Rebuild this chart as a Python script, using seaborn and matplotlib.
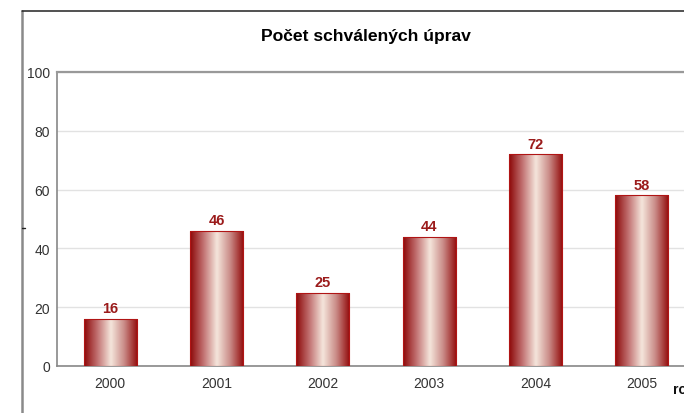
import matplotlib
matplotlib.use("Agg")
import matplotlib.pyplot as plt
import matplotlib.lines as mlines
from matplotlib.colors import LinearSegmentedColormap
from matplotlib.ticker import MultipleLocator, FixedLocator
import numpy as np
import pandas as pd
import seaborn as sns

roky = ['2000', '2001', '2002', '2003', '2004', '2005']
pocty = [16, 46, 25, 44, 72, 58]
titulek = 'Počet schválených úprav'

df = pd.DataFrame({'rok': roky, 'pocet': pocty})

sns.set_style('white')
plt.rcParams['font.family'] = ['Liberation Sans', 'DejaVu Sans']

W, H = 684, 414
fig = plt.figure(figsize=(W / 100, H / 100), dpi=100)
ax = fig.add_axes([57 / W, (H - 367) / H, (695 - 57) / W, (367 - 73) / H])

sns.barplot(data=df, x='rok', y='pocet', width=0.5, color='#a01010',
            ax=ax, zorder=3)

grad = LinearSegmentedColormap.from_list(
    'bar', ['#8c0808', '#c27272', '#f5e6dc', '#c98a86', '#920a0a'])
g = np.linspace(0, 1, 256).reshape(1, -1)
for p in ax.patches:
    x0, y0 = p.get_x(), p.get_y()
    w, h = p.get_width(), p.get_height()
    im = ax.imshow(g, cmap=grad, aspect='auto', extent=[x0, x0 + w, y0, y0 + h],
                   zorder=3, interpolation='bicubic')
    im.set_clip_path(p)
    p.set_facecolor('none')
    p.set_edgecolor('#b01515')
    p.set_linewidth(0.8)
    p.set_zorder(4)
    ax.text(x0 + w / 2, y0 + h + 1.2, f'{int(h)}', ha='center', va='bottom',
            fontsize=10.5, fontweight='bold', color='#9b1b1b', zorder=5)

ax.set_xlim(-0.5, 5.5)
ax.set_ylim(0, 100)
ax.yaxis.set_major_locator(MultipleLocator(20))
ax.yaxis.set_minor_locator(MultipleLocator(10))
ax.xaxis.set_minor_locator(FixedLocator([0.5, 1.5, 2.5, 3.5, 4.5]))
ax.grid(axis='y', color='#e2e2e2', linewidth=1, zorder=0)
ax.set_axisbelow(True)
ax.set_xlabel('')
ax.set_ylabel('')

ax.tick_params(axis='x', which='major', length=0, pad=7, labelsize=10,
               labelcolor='#333333')
ax.tick_params(axis='x', which='minor', direction='in', length=4,
               color='#666666', width=1)
ax.tick_params(axis='y', which='major', direction='in', length=4,
               color='#777777', labelsize=10, labelcolor='#333333', pad=5)
ax.tick_params(axis='y', which='minor', direction='in', length=3,
               color='#777777')

for s in ['left', 'bottom', 'top']:
    ax.spines[s].set_visible(True)
    ax.spines[s].set_color('#888888')
ax.spines['left'].set_linewidth(1.2)
ax.spines['bottom'].set_linewidth(1.2)
ax.spines['top'].set_linewidth(1.6)
ax.spines['top'].set_color('#999999')
ax.spines['right'].set_visible(False)

# vnější rámeček grafu
top_y = (H - 12) / H
fig.add_artist(mlines.Line2D([22 / W, 22 / W], [0.0, top_y],
                             transform=fig.transFigure, color='#8a8a8a', lw=1.8))
fig.add_artist(mlines.Line2D([22 / W, 1.0], [top_y, top_y],
                             transform=fig.transFigure, color='#222222', lw=1.1))
fig.add_artist(mlines.Line2D([22 / W, 25 / W], [(H - 229) / H, (H - 229) / H],
                             transform=fig.transFigure, color='#222222', lw=1))

fig.text(366 / W, (H - 37) / H, titulek, ha='center', va='center',
         fontsize=12.6, fontweight='bold', color='#000000')
fig.text(673 / W, (H - 390) / H, 'rok', ha='left', va='center',
         fontsize=10, fontweight='bold', color='#111111')

fig.savefig('out.png', dpi=100, facecolor='white')
